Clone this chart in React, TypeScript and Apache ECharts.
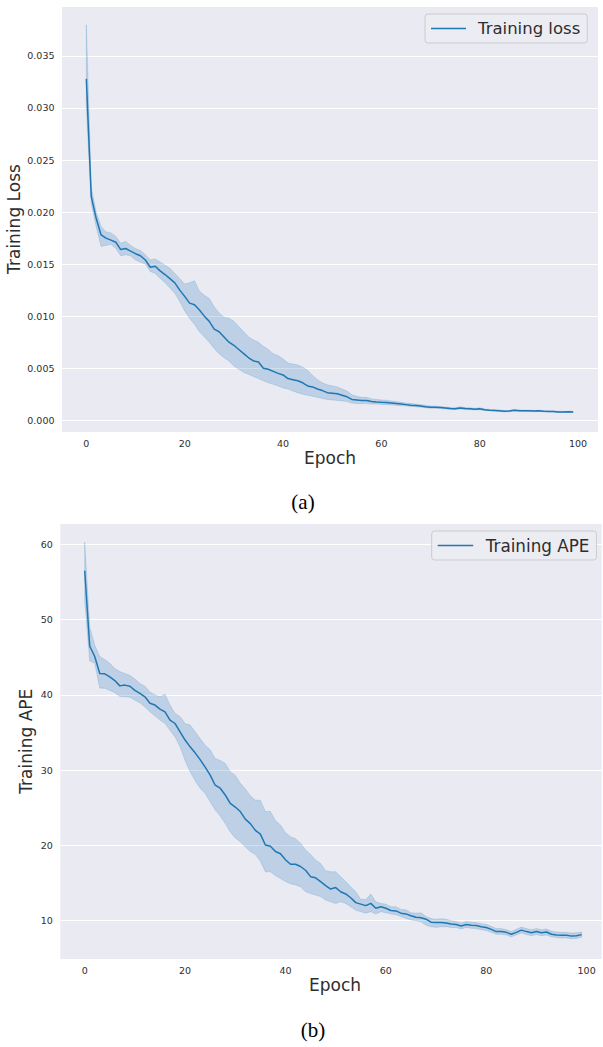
import React, { useEffect, useRef } from "react";
import * as echarts from "echarts";

const epochs = Array.from({ length: 100 }, (_, i) => i);

const lossMean = [0.0328,0.0215,0.0194,0.0178,0.0175,0.0173,0.0171,0.0164,0.0165,0.01625,
0.016,0.0158,0.0154,0.0147,0.0148,0.01435,0.014,0.0136,0.0132,0.0125,
0.0119,0.01125,0.0111,0.0106,0.01,0.0095,0.00875,0.0085,0.008,0.0075,
0.0072,0.0068,0.0064,0.006,0.0057,0.0056,0.005,0.0049,0.0047,0.0045,
0.00435,0.004,0.0039,0.0038,0.0036,0.0033,0.0032,0.003,0.00285,0.00265,
0.0026,0.00255,0.0024,0.00225,0.002,0.00195,0.0019,0.0019,0.0018,0.00175,
0.00172,0.0017,0.00165,0.0016,0.00155,0.0015,0.00145,0.00142,0.00137,0.0013,
0.00125,0.00124,0.00122,0.00118,0.00112,0.0011,0.00118,0.00112,0.0011,0.00106,
0.0011,0.001,0.00096,0.00094,0.0009,0.00086,0.00088,0.00095,0.00092,0.0009,
0.0009,0.00088,0.0009,0.00087,0.00085,0.00083,0.0008,0.0008,0.00081,0.0008];

const lossLower = [0.03,0.0208,0.0186,0.0167,0.0168,0.0169,0.0165,0.0158,0.0159,0.0158,
0.0154,0.0152,0.015,0.0143,0.0141,0.01365,0.0132,0.0127,0.0122,0.0114,
0.0105,0.0098,0.0092,0.0085,0.008,0.0075,0.0069,0.0064,0.006,0.0057,
0.0052,0.0049,0.0046,0.0044,0.0042,0.004,0.0038,0.0036,0.00345,0.0033,
0.0031,0.003,0.0028,0.00265,0.0025,0.0024,0.0023,0.0022,0.0021,0.002,
0.00195,0.0019,0.00185,0.0018,0.00165,0.0016,0.0016,0.0016,0.00155,0.00155,
0.00152,0.0015,0.00147,0.00143,0.0014,0.00138,0.00133,0.0013,0.00125,0.0012,
0.00115,0.00114,0.00112,0.0011,0.00104,0.00102,0.00108,0.00103,0.00102,0.00098,
0.001,0.00093,0.0009,0.00088,0.00085,0.0008,0.00082,0.00088,0.00086,0.00084,
0.00084,0.00082,0.00084,0.00081,0.0008,0.00078,0.00075,0.00075,0.00076,0.00075];

const lossUpper = [0.038,0.0224,0.02,0.0186,0.0181,0.018,0.01765,0.017,0.0172,0.0168,
0.0165,0.0163,0.0159,0.0154,0.0155,0.0152,0.0149,0.0146,0.0141,0.0136,
0.0131,0.0132,0.0134,0.0124,0.012,0.0117,0.0109,0.0103,0.0099,0.0098,
0.0095,0.009,0.0085,0.008,0.0077,0.0075,0.0071,0.0068,0.0064,0.0062,
0.0059,0.0055,0.0054,0.0053,0.0051,0.0048,0.0043,0.0039,0.0036,0.0034,
0.0033,0.0032,0.003,0.0028,0.00245,0.0023,0.0022,0.0022,0.00205,0.002,
0.00195,0.00192,0.00185,0.0018,0.00172,0.00165,0.0016,0.00155,0.0015,0.00142,
0.00138,0.00135,0.00132,0.00128,0.00122,0.0012,0.0013,0.00122,0.0012,0.00115,
0.0012,0.00108,0.00104,0.00102,0.00097,0.00093,0.00095,0.00102,0.001,0.00097,
0.00097,0.00095,0.00096,0.00093,0.00091,0.00089,0.00086,0.00086,0.00087,0.00086];

const apeMean = [56.5,46.5,45.1,42.85,42.8,42.4,41.9,41.2,41.3,41.15,
40.6,40.2,39.75,38.9,38.65,38.1,37.75,36.65,36.2,35.1,
34.0,33.1,32.3,31.4,30.4,29.35,28.0,27.6,26.7,25.6,
25.1,24.5,23.5,22.9,22.0,21.5,20.05,19.9,19.2,18.9,
18.1,17.5,17.5,17.2,16.7,15.85,15.7,15.2,14.65,14.2,
14.4,13.85,13.55,13.05,12.4,12.2,12.0,12.3,11.65,11.85,
11.65,11.35,11.3,11.0,10.9,10.65,10.45,10.4,10.2,9.8,
9.75,9.75,9.7,9.55,9.5,9.3,9.5,9.4,9.35,9.2,
9.1,8.85,8.55,8.55,8.45,8.2,8.45,8.75,8.55,8.4,
8.55,8.4,8.5,8.2,8.1,8.05,8.05,7.95,8.0,8.15];

const apeLower = [52.5,44.5,44.2,40.9,40.9,40.6,40.3,39.8,39.75,39.7,
39.3,38.95,38.4,37.75,37.2,36.65,36.2,35.3,34.4,33.1,
31.3,29.8,28.6,27.6,26.9,25.8,24.7,23.9,22.9,21.8,
21.0,20.5,19.8,19.2,18.8,17.9,16.5,16.5,16.0,15.6,
15.2,14.9,14.75,14.5,13.85,13.6,13.4,13.2,12.75,12.5,
12.3,12.5,12.3,11.85,11.4,11.2,11.0,11.2,10.9,11.2,
11.05,10.9,10.8,10.55,10.3,10.1,10.0,9.85,9.4,9.2,
9.1,9.2,9.2,9.1,9.1,8.9,9.1,9.0,8.95,8.8,
8.7,8.45,8.2,8.2,8.1,7.85,8.1,8.35,8.15,8.0,
8.15,8.0,8.1,7.85,7.75,7.7,7.7,7.6,7.65,7.8];

const apeUpper = [60.3,49.0,46.6,45.1,44.7,44.2,43.5,43.1,42.85,42.6,
42.1,41.5,41.15,40.4,40.0,39.75,40.1,38.65,37.55,37.1,
36.2,36.0,35.1,34.2,33.3,32.7,31.55,31.3,30.9,29.8,
29.3,28.25,27.5,26.6,26.0,26.0,24.5,24.5,23.3,22.7,
21.7,21.15,20.9,20.3,19.4,18.8,18.05,17.6,16.65,16.5,
16.5,15.85,15.2,14.5,13.85,12.85,12.8,13.55,12.5,12.3,
12.2,11.85,11.85,11.5,11.45,11.05,11.0,11.05,10.55,10.3,
10.2,10.25,10.2,10.0,9.9,9.7,9.9,9.8,9.75,9.6,
9.5,9.25,8.95,8.95,8.8,8.55,8.85,9.15,8.95,8.8,
8.95,8.8,8.9,8.6,8.5,8.45,8.45,8.35,8.4,8.5];

const xTicks = [0, 20, 40, 60, 80, 100];
const lossTicks = [0, 0.005, 0.01, 0.015, 0.02, 0.025, 0.03, 0.035];
const apeTicks = [10, 20, 30, 40, 50, 60];

const BLUE = "#1f77b4";
const BAND = "rgba(31,119,180,0.22)";
const BAND_EDGE = "rgba(31,119,180,0.22)";
const BG = "#EAEAF2";
const TXT = "#2e2e2e";
const FONT = "DejaVu Sans";

function isTick(v: number, ticks: number[]) {
  return ticks.some((t) => Math.abs(t - v) < 1e-9 * Math.max(1, Math.abs(t)) + 1e-12);
}

export default function App() {
  const ref = useRef<HTMLDivElement>(null);
  useEffect(() => {
    if (!ref.current) return;
    const chart = echarts.init(ref.current, null, { renderer: "svg" });

    const xAxisBase = (gridIndex: number, min: number, max: number, padLeft: number) => ({
      type: "value",
      gridIndex,
      min,
      max,
      splitNumber: 5,
      name: "Epoch",
      nameLocation: "middle",
      nameGap: 17,
      nameMoveOverlap: false,
      nameTextStyle: { fontFamily: FONT, fontSize: 17, color: TXT, padding: [0, 0, 0, padLeft], verticalAlign: "top" },
      axisLine: { show: false },
      axisTick: { show: false },
      splitLine: { show: false },
      axisLabel: {
        fontFamily: FONT,
        fontSize: 9.5,
        color: TXT,
        margin: 6,
        formatter: (v: number) => (isTick(v, xTicks) ? String(Math.round(v)) : ""),
      },
    });

    const mkBand = (xi: number, lower: number[], upper: number[]) => ({
      type: "custom",
      xAxisIndex: xi,
      yAxisIndex: xi,
      silent: true,
      z: 1,
      encode: { x: 0, y: [1, 2] },
      data: epochs.map((e, i) => [e, lower[i], upper[i]]),
      renderItem: (params: any, api: any) => {
        if (params.dataIndex !== 0) return null;
        const top = epochs.map((e, i) => api.coord([e, upper[i]]));
        const bot = epochs.map((e, i) => api.coord([e, lower[i]])).reverse();
        return {
          type: "polygon",
          shape: { points: top.concat(bot) },
          style: { fill: BAND, stroke: BAND_EDGE, lineWidth: 0.8 },
        };
      },
    });

    const gridBase = { show: true, backgroundColor: BG, borderWidth: 0, containLabel: false, outerBoundsMode: "none" };

    chart.setOption({
      animation: false,
      backgroundColor: "#ffffff",
      textStyle: { fontFamily: FONT },
      grid: [
        { ...gridBase, left: 62, top: 6, width: 536, height: 426 },
        { ...gridBase, left: 60.3, top: 523.3, width: 541.4, height: 436 },
      ],
      xAxis: [xAxisBase(0, -4.95, 104.05, 0), xAxisBase(1, -4.86, 103, 8)],
      yAxis: [
        {
          type: "value",
          gridIndex: 0,
          min: -0.00113,
          max: 0.0398,
          splitNumber: 8,
          name: "Training Loss",
          nameLocation: "middle",
          nameGap: 39.5,
          nameMoveOverlap: false,
          nameTextStyle: { fontFamily: FONT, fontSize: 17, color: TXT },
          axisLine: { show: false },
          axisTick: { show: false },
          splitLine: { show: true, lineStyle: { color: "#ffffff", width: 1.2 } },
          axisLabel: {
            fontFamily: FONT,
            fontSize: 9.5,
            color: TXT,
            margin: 7.5,
            formatter: (v: number) => (isTick(v, lossTicks) ? v.toFixed(3) : ""),
          },
        },
        {
          type: "value",
          gridIndex: 1,
          min: 4.87,
          max: 62.8,
          splitNumber: 6,
          name: "Training APE",
          nameLocation: "middle",
          nameGap: 25.5,
          nameMoveOverlap: false,
          nameTextStyle: { fontFamily: FONT, fontSize: 17, color: TXT },
          axisLine: { show: false },
          axisTick: { show: false },
          splitLine: { show: true, lineStyle: { color: "#ffffff", width: 1.2 } },
          axisLabel: {
            fontFamily: FONT,
            fontSize: 9.5,
            color: TXT,
            margin: 7.5,
            formatter: (v: number) => (isTick(v, apeTicks) ? String(Math.round(v)) : ""),
          },
        },
      ],
      legend: [
        {
          data: ["Training loss"],
          left: 425,
          top: 14,
          padding: [6, 7, 6, 6],
          icon: "rect",
          itemWidth: 35,
          itemHeight: 1.6,
          backgroundColor: "rgba(236,236,243,0.9)",
          borderColor: "#cccccc",
          borderWidth: 1,
          borderRadius: 3,
          textStyle: { fontFamily: FONT, fontSize: 16.5, color: TXT, padding: [0, 0, 0, 7] },
        },
        {
          data: ["Training APE"],
          left: 431.7,
          top: 531,
          padding: [6, 7, 6, 6],
          icon: "rect",
          itemWidth: 35.5,
          itemHeight: 1.6,
          backgroundColor: "rgba(236,236,243,0.9)",
          borderColor: "#cccccc",
          borderWidth: 1,
          borderRadius: 3,
          textStyle: { fontFamily: FONT, fontSize: 16.8, color: TXT, padding: [0, 0, 0, 7.5] },
        },
      ],
      series: [
        mkBand(0, lossLower, lossUpper),
        {
          type: "line",
          name: "Training loss",
          xAxisIndex: 0,
          yAxisIndex: 0,
          data: epochs.map((e, i) => [e, lossMean[i]]),
          symbol: "none",
          lineStyle: { width: 1.5, color: BLUE },
          itemStyle: { color: BLUE },
          z: 3,
        },
        mkBand(1, apeLower, apeUpper),
        {
          type: "line",
          name: "Training APE",
          xAxisIndex: 1,
          yAxisIndex: 1,
          data: epochs.map((e, i) => [e, apeMean[i]]),
          symbol: "none",
          lineStyle: { width: 1.5, color: BLUE },
          itemStyle: { color: BLUE },
          z: 3,
        },
      ],
      graphic: [
        {
          type: "text",
          x: 303,
          y: 502,
          style: {
            text: "(a)",
            fontFamily: "Liberation Serif",
            fontSize: 21,
            fill: "#000000",
            textAlign: "center",
            textVerticalAlign: "middle",
          },
        },
        {
          type: "text",
          x: 313,
          y: 1030,
          style: {
            text: "(b)",
            fontFamily: "Liberation Serif",
            fontSize: 21,
            fill: "#000000",
            textAlign: "center",
            textVerticalAlign: "middle",
          },
        },
      ],
    });
    return () => chart.dispose();
  }, []);

  return <div ref={ref} style={{ position: "absolute", left: 0, top: 0, width: 603, height: 1047 }} />;
}
